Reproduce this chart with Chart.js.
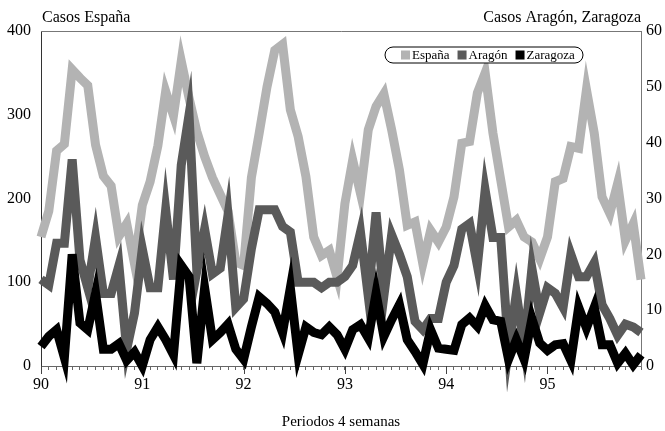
<!DOCTYPE html>
<html>
<head>
<meta charset="utf-8">
<script src="https://cdn.jsdelivr.net/npm/chart.js@4/dist/chart.umd.min.js"></script>
<style>
html,body{margin:0;padding:0;background:#fff;}
#wrap{width:665px;height:431px;}
</style>
</head>
<body>
<div id="wrap"><canvas id="grafico" width="665" height="431"></canvas></div>
<script>
// años y periodos de 4 semanas (13 por año)
const years = ['90','91','92','93','94','95'];
const periodos = [];
for(let y=0;y<years.length;y++){
    for(let p=1;p<=13;p++){
        periodos.push(years[y]+'/'+p);
    }
}

// Casos España (eje izquierdo)
const espana = [154,185,257,265,354,344,335,264,227,215,155,170,122,
                192,220,263,328,299,364,320,280,250,225,205,185,124,
                120,225,278,333,377,384,306,274,226,154,132,138,106,
                194,246,206,282,310,325,282,234,168,172,122,162,148,
                166,202,266,268,326,350,278,222,166,174,154,148,128,
                154,220,224,262,260,330,278,202,182,218,150,170,103];

// Casos Aragón (eje derecho)
const aragon = [15.5,14.5,22,22,37,19,14,23,13,13,18,3,9.5,
                21,14,14,28,15.5,36,45,17,24.5,16.5,17.5,27,10.5,
                12,21,28,28,28,25,24,15,15,15,14,15,15,
                16,18,24,12.5,27.5,12.5,23.5,20,16,8,6.5,8.5,8.5,
                15,18,24.5,25.5,18,31.5,23,23,3,13,3.5,17.5,9.5,
                14,13,10.5,20,16,16,18.5,11,8.5,5.5,7.5,7,6];

// Casos Zaragoza (eje derecho)
const zaragoza = [3.5,5.3,6.5,1.5,20,7.7,6.5,13,3,3,4,1,2.5,
                  0,4.7,7,4.7,2,18,16,0.5,14,4.7,6,7.5,3,
                  1.2,7,12.4,11.2,9.7,6,14,2,7,6,5.6,7,5.6,
                  3,6.5,7.4,5,13,5.3,8.3,11,4.7,2.6,0.3,6.5,3.2,
                  3,2.8,7.4,8.6,7.1,10.8,8.3,8,1.2,4.7,1.2,8.5,4.1,
                  2.8,3.8,4,1,10.5,6.8,10.5,3.8,3.8,0.5,2.3,0.2,2];

const colores = ['#b3b3b3','#5a5a5a','#000000'];
const fuente = "'Liberation Serif', 'Times New Roman', serif";

const marco = {
    id:'marco',
    beforeDatasetsDraw(chart){
        const ctx = chart.ctx;
        const a = chart.chartArea;
        const x = chart.scales.x;
        ctx.save();
        ctx.strokeStyle = '#777';
        ctx.lineWidth = 1;
        ctx.beginPath();
        ctx.moveTo(a.left, a.top+0.5);
        ctx.lineTo(a.right+0.5, a.top+0.5);
        ctx.lineTo(a.right+0.5, a.bottom);
        ctx.stroke();
        // marcas largas en el inicio de cada año
        ctx.strokeStyle = '#444';
        for(let i=0;i<periodos.length;i+=13){
            const px = Math.round(x.getPixelForValue(i))+0.5;
            ctx.beginPath();
            ctx.moveTo(px, a.bottom);
            ctx.lineTo(px, a.bottom+8);
            ctx.stroke();
        }
        ctx.restore();
    },
    afterDraw(chart){
        const ctx = chart.ctx;
        const a = chart.chartArea;
        ctx.save();
        ctx.fillStyle = '#000';
        ctx.font = '16px '+fuente;
        ctx.textBaseline = 'alphabetic';
        ctx.textAlign = 'left';
        ctx.fillText('Casos España', a.left+1, a.top-9);
        ctx.textAlign = 'right';
        ctx.fillText('Casos Aragón, Zaragoza', a.right, a.top-9);

        // leyenda
        const lx = a.right-256, ly = a.top+16, lw = 198, lh = 16, r = lh/2;
        ctx.beginPath();
        ctx.moveTo(lx+r, ly);
        ctx.lineTo(lx+lw-r, ly);
        ctx.arc(lx+lw-r, ly+r, r, -Math.PI/2, Math.PI/2);
        ctx.lineTo(lx+r, ly+lh);
        ctx.arc(lx+r, ly+r, r, Math.PI/2, Math.PI*1.5);
        ctx.closePath();
        ctx.fillStyle = '#fff';
        ctx.fill();
        ctx.strokeStyle = '#000';
        ctx.lineWidth = 1;
        ctx.stroke();
        ctx.font = '13px '+fuente;
        ctx.textAlign = 'left';
        ctx.textBaseline = 'middle';
        let cx = lx+16;
        const cy = ly+lh/2;
        chart.data.datasets.forEach(ds=>{
            ctx.fillStyle = ds.borderColor;
            ctx.fillRect(cx, cy-4.5, 9, 9);
            ctx.fillStyle = '#000';
            ctx.fillText(ds.label, cx+11, cy+1);
            cx += 11+ctx.measureText(ds.label).width+8;
        });
        ctx.restore();
    }
};

new Chart(document.getElementById('grafico'), {
    type:'line',
    data:{
        labels:periodos,
        datasets:[
            {label:'España', data:espana, yAxisID:'y', borderColor:colores[0], order:3},
            {label:'Aragón', data:aragon, yAxisID:'y1', borderColor:colores[1], order:2},
            {label:'Zaragoza', data:zaragoza, yAxisID:'y1', borderColor:colores[2], order:1}
        ]
    },
    options:{
        responsive:false,
        animation:false,
        devicePixelRatio:1,
        layout:{padding:{top:31,left:0,right:0,bottom:0}},
        elements:{
            line:{borderWidth:9, tension:0, borderJoinStyle:'miter', borderCapStyle:'butt', fill:false},
            point:{radius:0, hoverRadius:0}
        },
        datasets:{line:{clip:false}},
        plugins:{legend:{display:false}, tooltip:{enabled:false}},
        scales:{
            x:{
                type:'category',
                offset:false,
                grid:{display:true, drawOnChartArea:false, drawTicks:true, tickLength:4, color:'#666'},
                border:{display:true, color:'#666'},
                ticks:{
                    autoSkip:false, maxRotation:0, minRotation:0, padding:5,
                    color:'#000', font:{family:fuente, size:16},
                    callback:(v,i)=> i%13===0 ? years[i/13] : ''
                },
                title:{display:true, text:'Periodos 4 semanas', color:'#000',
                       font:{family:fuente, size:15}, padding:{top:0,bottom:0}},
                afterFit:(s)=>{ s.height = 65; }
            },
            y:{
                position:'left', min:0, max:400,
                grid:{display:false, drawTicks:false, tickLength:0},
                border:{display:true, color:'#333'},
                ticks:{stepSize:100, padding:10, color:'#000', font:{family:fuente, size:16}},
                afterFit:(s)=>{ s.width = 41; }
            },
            y1:{
                position:'right', min:0, max:60,
                grid:{display:false, drawTicks:false, tickLength:0},
                border:{display:true, color:'#777'},
                ticks:{stepSize:10, padding:5, color:'#000', font:{family:fuente, size:16}},
                afterFit:(s)=>{ s.width = 24; }
            }
        }
    },
    plugins:[marco]
});
</script>
</body>
</html>
